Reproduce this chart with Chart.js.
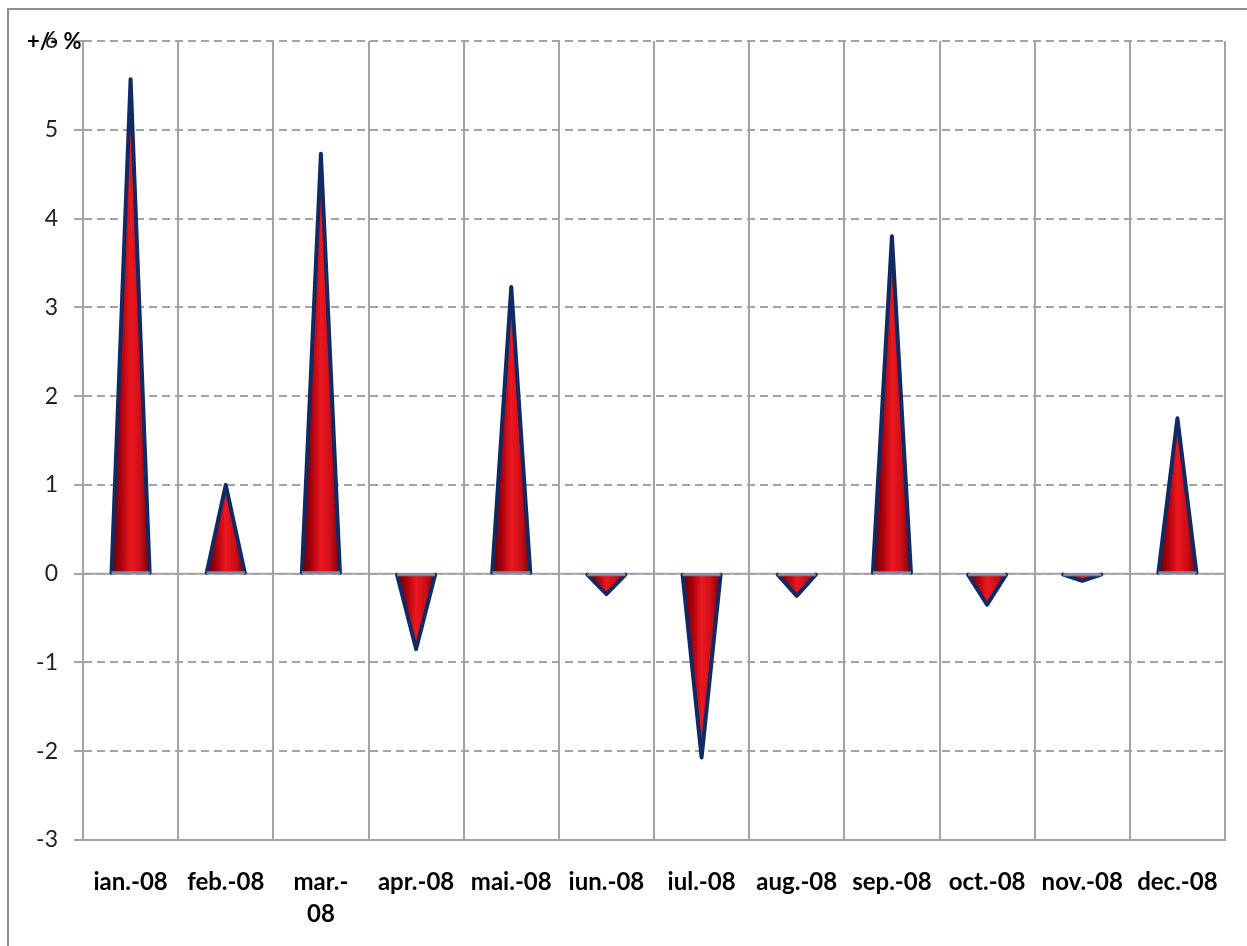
<!DOCTYPE html>
<html>
<head>
<meta charset="utf-8">
<script src="https://cdn.jsdelivr.net/npm/chart.js@4.4.1/dist/chart.umd.min.js"></script>
<style>
    html, body { margin: 0; padding: 0; background: #fff; }
    #wrap { position: relative; width: 1247px; height: 946px; overflow: hidden; }
    #frame {
        position: absolute; left: 7px; top: 8px; width: 1300px; height: 1000px;
        border-top: 2px solid #8e8e8e; border-left: 2px solid #8e8e8e;
    }
    #chart { position: absolute; left: 0; top: 0; }
</style>
</head>
<body>
<div id="wrap">
    <div id="frame"></div>
    <canvas id="chart" width="1247" height="946"></canvas>
</div>
<script>
(function () {
    'use strict';

    const months = ['ian.-08', 'feb.-08', ['mar.-', '08'], 'apr.-08', 'mai.-08', 'iun.-08',
        'iul.-08', 'aug.-08', 'sep.-08', 'oct.-08', 'nov.-08', 'dec.-08'];
    const changes = [5.57, 1.0, 4.73, -0.85, 3.23, -0.23, -2.07, -0.25, 3.8, -0.35, -0.08, 1.75];
    const yTicks = [-3, -2, -1, 0, 1, 2, 3, 4, 5, 6];
    const unitLabel = '+/- %';

    const gridGrey = '#a3a3a3';

    // draws the cone shaped marks on top of the (invisible) bars
    const conePlugin = {
        id: 'cones',
        beforeDatasetsDraw: function (chart) {
            const area = chart.chartArea;
            const y0 = chart.scales.y.getPixelForValue(0);
            const ctx = chart.ctx;
            ctx.save();
            ctx.strokeStyle = gridGrey;
            ctx.lineWidth = 2;
            ctx.beginPath();
            ctx.moveTo(area.left, y0);
            ctx.lineTo(area.right, y0);
            ctx.stroke();
            ctx.restore();
        },
        afterDatasetsDraw: function (chart) {
            const ctx = chart.ctx;
            const meta = chart.getDatasetMeta(0);
            meta.data.forEach(function (bar) {
                const half = bar.width / 2;
                const left = bar.x - half;
                const right = bar.x + half;
                const grad = ctx.createLinearGradient(left, 0, right, 0);
                grad.addColorStop(0, '#5e0005');
                grad.addColorStop(0.25, '#a8000b');
                grad.addColorStop(0.5, '#ec1820');
                grad.addColorStop(0.75, '#cc0f18');
                grad.addColorStop(1, '#7a0008');

                ctx.save();
                ctx.beginPath();
                ctx.moveTo(left, bar.base);
                ctx.lineTo(bar.x, bar.y);
                ctx.lineTo(right, bar.base);
                ctx.closePath();
                ctx.fillStyle = grad;
                ctx.fill();

                ctx.lineJoin = 'round';
                ctx.lineCap = 'round';
                ctx.strokeStyle = '#122a64';
                ctx.lineWidth = 4;
                ctx.beginPath();
                ctx.moveTo(left, bar.base);
                ctx.lineTo(bar.x, bar.y);
                ctx.lineTo(right, bar.base);
                ctx.stroke();

                ctx.strokeStyle = '#7f8aa3';
                ctx.lineWidth = 3;
                ctx.lineCap = 'butt';
                ctx.beginPath();
                ctx.moveTo(left, bar.base);
                ctx.lineTo(right, bar.base);
                ctx.stroke();
                ctx.restore();
            });
        },
        afterDraw: function (chart) {
            const ctx = chart.ctx;
            ctx.save();
            ctx.fillStyle = '#000';
            ctx.font = 'bold 22px Lato';
            ctx.textAlign = 'left';
            ctx.textBaseline = 'middle';
            ctx.fillText(unitLabel, 27, chart.scales.y.getPixelForValue(6) + 1);
            ctx.restore();
        }
    };

    new Chart(document.getElementById('chart'), {
        type: 'bar',
        data: {
            labels: months,
            datasets: [{
                data: changes,
                backgroundColor: 'rgba(0,0,0,0)',
                borderWidth: 0,
                barPercentage: 0.4,
                categoryPercentage: 1
            }]
        },
        options: {
            responsive: false,
            animation: false,
            devicePixelRatio: 1,
            layout: { padding: { top: 41, right: 22, left: 0, bottom: 0 } },
            plugins: {
                legend: { display: false },
                tooltip: { enabled: false }
            },
            scales: {
                x: {
                    offset: true,
                    grid: {
                        offset: true,
                        color: gridGrey,
                        lineWidth: 2,
                        drawTicks: false
                    },
                    border: { display: true, color: gridGrey, width: 2 },
                    ticks: {
                        color: '#000',
                        padding: 27,
                        maxRotation: 0,
                        autoSkip: false,
                        font: { family: 'Lato', size: 24, weight: 'bold', lineHeight: 1.3 }
                    },
                    afterFit: function (scale) { scale.height = 106; }
                },
                y: {
                    min: -3,
                    max: 6,
                    afterBuildTicks: function (scale) {
                        scale.ticks = yTicks.map(function (v) { return { value: v }; });
                    },
                    grid: {
                        color: gridGrey,
                        lineWidth: 2,
                        tickLength: 9,
                        tickBorderDash: [],
                        tickColor: gridGrey
                    },
                    border: { display: true, color: gridGrey, width: 2, dash: [8, 5] },
                    ticks: {
                        color: '#222',
                        padding: 16,
                        font: { family: 'Lato', size: 23 }
                    },
                    afterFit: function (scale) { scale.width = 83; }
                }
            }
        },
        plugins: [conePlugin]
    });
})();
</script>
</body>
</html>
